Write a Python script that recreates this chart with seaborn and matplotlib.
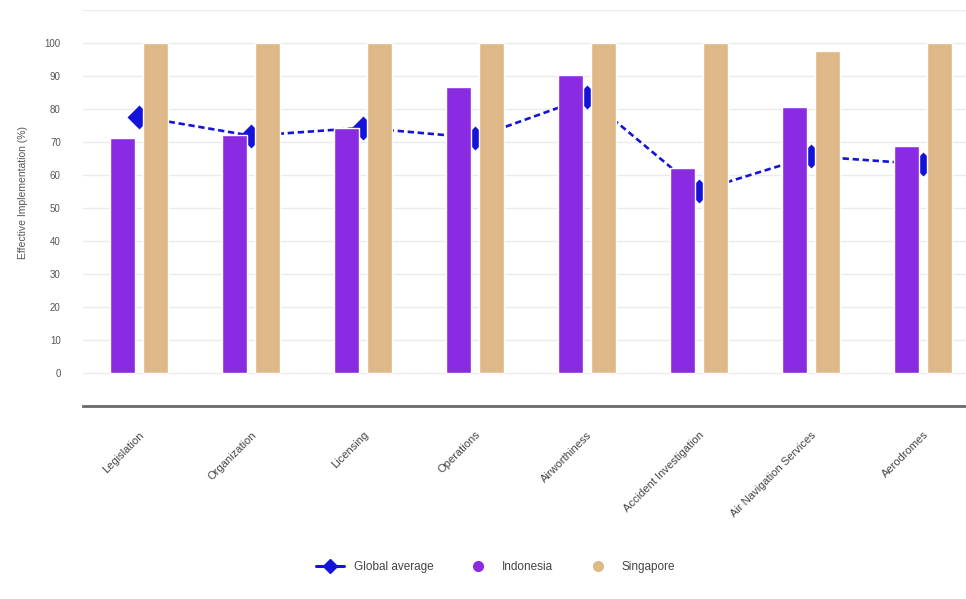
import numpy as np
import pandas as pd
import seaborn as sns
import matplotlib.pyplot as plt
from matplotlib.lines import Line2D

# Datos
categorias = ['Legislation', 'Organization', 'Licensing', 'Operations',
              'Airworthiness', 'Accident Investigation', 'Air Navigation Services',
              'Aerodromes']
indonesia = [71.3, 72.0, 74.2, 86.6, 90.3, 62.0, 80.5, 68.8]
singapore = [100, 100, 100, 100, 100, 100, 97.7, 100]
global_average = [77.7, 71.9, 74.3, 71.3, 83.5, 55.2, 65.7, 63.3]

paises = ['Indonesia', 'Singapore']
colores = {'Indonesia': '#8a2be2', 'Singapore': '#deb887'}
color_linea = '#1414d8'

df = pd.DataFrame({
    'category': categorias * 2,
    'value': indonesia + singapore,
    'country': ['Indonesia'] * len(categorias) + ['Singapore'] * len(categorias),
})
df_avg = pd.DataFrame({'category': categorias, 'value': global_average})

sns.set_style('white')
plt.rcParams['font.family'] = ['Liberation Sans', 'DejaVu Sans']

fig = plt.figure(figsize=(9.66, 5.99), dpi=100)
ax = fig.add_axes([83 / 966, 193 / 599, 8 * 112 / 966, 396 / 599])

sns.barplot(data=df, x='category', y='value', hue='country', order=categorias,
            hue_order=paises, palette=colores, width=0.59, gap=0.24,
            saturation=1, legend=False, ax=ax, zorder=2)

sns.pointplot(data=df_avg, x='category', y='value', order=categorias,
              color=color_linea, linestyles='--', markers='D', ax=ax)
for ln in ax.lines:
    ln.set_zorder(1)
    ln.set_linewidth(1.9)
    ln.set_dashes((2.4, 1.4))
    ln.set_markersize(10)
    ln.set_markeredgecolor(color_linea)
for c in ax.collections:
    c.set_zorder(1)
    c.set_edgecolor(color_linea)

ax.set_xlim(-0.5, len(categorias) - 0.5)
ax.set_ylim(-10, 110)
ticks = list(range(0, 111, 10))
ax.set_yticks(ticks)
ax.set_yticklabels([str(t) if t <= 100 else '' for t in ticks], fontsize=7, color='#555555')
ax.tick_params(axis='y', length=0, pad=16)
ax.tick_params(axis='x', length=0, pad=17)
ax.grid(axis='y', color='#ebebeb', linewidth=1)
ax.set_axisbelow(True)

ax.set_xticks(range(len(categorias)))
ax.set_xticklabels(categorias, rotation=45, ha='right', rotation_mode='anchor',
                   fontsize=8, color='#444444')
ax.set_xlabel('')
ax.set_ylabel('Effective Implementation (%)', fontsize=7.5, color='#555555')
ax.yaxis.set_label_coords(-0.061, 0.538)

for s in ['top', 'right', 'left']:
    ax.spines[s].set_visible(False)
ax.spines['bottom'].set_color('#6a6a6a')
ax.spines['bottom'].set_linewidth(2)

handles = [
    Line2D([], [], color=color_linea, linestyle='-', linewidth=2.2, marker='D', markersize=7),
    Line2D([], [], color=colores['Indonesia'], linestyle='', marker='o', markersize=7),
    Line2D([], [], color=colores['Singapore'], linestyle='', marker='o', markersize=7),
]
fig.legend(handles, ['Global average'] + paises, loc='center', ncol=3,
           bbox_to_anchor=(0.513, 0.053), frameon=False, fontsize=8.5,
           labelcolor='#444444', handlelength=2.4, handletextpad=0.8,
           columnspacing=2.6)

plt.savefig('out.png', dpi=100)
